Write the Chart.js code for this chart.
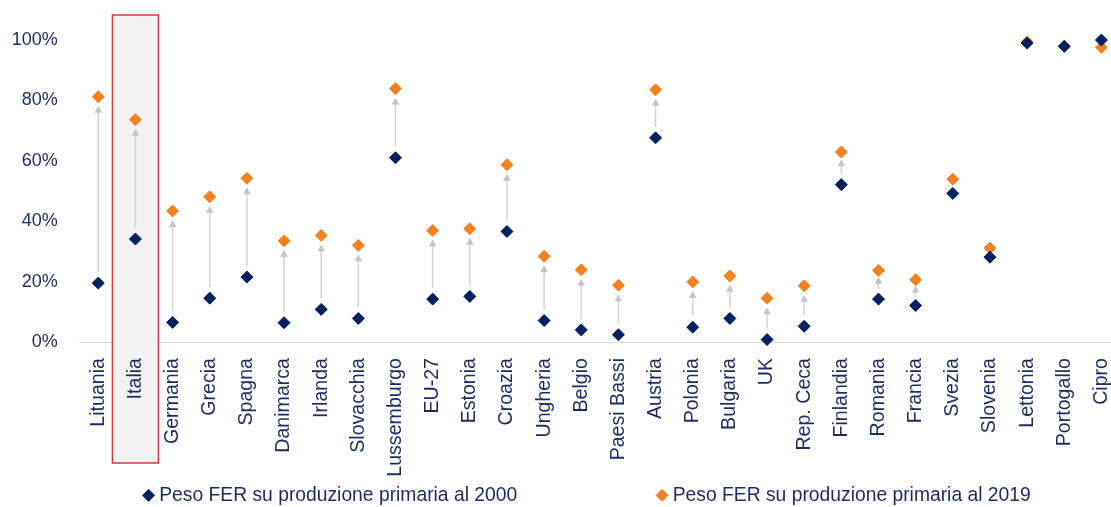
<!DOCTYPE html>
<html lang="it">
<head>
<meta charset="utf-8">
<title>Peso FER su produzione primaria</title>
<script src="https://cdn.jsdelivr.net/npm/chart.js@4.4.1/dist/chart.umd.min.js"></script>
<style>
  html, body { margin: 0; padding: 0; background: #ffffff; }
  #wrap { position: relative; width: 1111px; height: 507px; overflow: hidden; }
  canvas { display: block; }
</style>
</head>
<body>
<div id="wrap"><canvas id="chart"></canvas></div>
<script>
// Countries, ordered as on the axis
const countries = ['Lituania', 'Italia', 'Germania', 'Grecia', 'Spagna', 'Danimarca', 'Irlanda',
  'Slovacchia', 'Lussemburgo', 'EU-27', 'Estonia', 'Croazia', 'Ungheria', 'Belgio', 'Paesi Bassi',
  'Austria', 'Polonia', 'Bulgaria', 'UK', 'Rep. Ceca', 'Finlandia', 'Romania', 'Francia', 'Svezia',
  'Slovenia', 'Lettonia', 'Portogallo', 'Cipro'];

// Share of renewables (FER) in primary production, %
const share2000 = [19.5, 34.1, 6.5, 14.5, 21.5, 6.4, 10.8, 7.8, 61.0, 14.2, 15.1, 36.6, 7.1, 4.0, 2.4,
  67.6, 4.9, 7.8, 0.8, 5.2, 52.1, 14.2, 12.1, 49.2, 28.1, 99.0, 97.9, 100.0];
const share2019 = [81.2, 73.6, 43.4, 48.1, 54.2, 33.5, 35.3, 32.0, 83.9, 36.9, 37.5, 58.7, 28.4, 23.9, 18.8,
  83.5, 19.9, 21.9, 14.5, 18.6, 62.9, 23.7, 20.6, 53.9, 31.1, 99.4, 97.9, 97.6];

const yTicks = [0, 20, 40, 60, 80, 100];
const seriesNames = ['Peso FER su produzione primaria al 2000', 'Peso FER su produzione primaria al 2019'];
const highlighted = 'Italia';

const NAVY = '#002060';
const ORANGE = '#f58220';
const TEXT = '#1d2b5e';

// Prefer a condensed sans face when one is installed
const probe = document.createElement('canvas').getContext('2d');
function installed(name) {
  const sample = 'mmmmmwwwiiilll 0123456789';
  return ['monospace', 'serif'].some(base => {
    probe.font = `40px ${base}`;
    const a = probe.measureText(sample).width;
    probe.font = `40px '${name}', ${base}`;
    return probe.measureText(sample).width !== a;
  });
}
const family = ['Liberation Sans Narrow', 'Arial Narrow', 'Liberation Sans'].find(installed) || 'Arial';
const FONT = `'${family}', Arial, sans-serif`;

// Font size giving a text run the wanted length in pixels
function sizeForWidth(text, px) {
  probe.font = `100px ${FONT}`;
  return Math.round(1000 * px / probe.measureText(text).width) / 10;
}
const tickSize = sizeForWidth('100%', 46);
const labelSize = sizeForWidth('Lussemburgo', 119);
const legendSize = sizeForWidth(seriesNames[0], 359);

// Canvas geometry: plot from y = 40 (100%) to y = 342 (0%), categories 37.16 px wide from x = 79.7
const canvasW = 1120;
const canvasH = Math.round(505 + legendSize / 2);
const legendH = legendSize + 20;
const xAxisH = canvasH - legendH - 342;

// Spacing of the two legend entries, as trailing blanks
probe.font = `${legendSize}px ${FONT}`;
const spaceW = probe.measureText(' ').width;
const legendPad = [' '.repeat(Math.round(134 / spaceW)), ' '.repeat(Math.round(20 / spaceW))];

const cv = document.getElementById('chart');
cv.width = canvasW;
cv.height = canvasH;

Chart.defaults.font.family = FONT;
Chart.defaults.color = TEXT;

// Baseline at 0% and the framed column behind the highlighted country
const frameAndBaseline = {
  id: 'frameAndBaseline',
  beforeDraw(chart) {
    const { ctx, chartArea, scales } = chart;
    const y0 = scales.y.getPixelForValue(0);
    ctx.save();
    ctx.strokeStyle = '#d9d9d9';
    ctx.lineWidth = 1;
    ctx.beginPath();
    ctx.moveTo(chartArea.left, Math.round(y0) + 0.5);
    ctx.lineTo(chartArea.right, Math.round(y0) + 0.5);
    ctx.stroke();

    const i = countries.indexOf(highlighted);
    const xc = scales.x.getPixelForValue(i);
    const half = 23;
    const top = chartArea.top - 25;
    const bottom = chartArea.bottom + 121;
    ctx.fillStyle = '#f2f2f2';
    ctx.fillRect(xc - half, top, half * 2, bottom - top);
    ctx.strokeStyle = '#d33b3b';
    ctx.lineWidth = 1.5;
    ctx.strokeRect(xc - half, top, half * 2, bottom - top);
    ctx.restore();
  }
};

// Grey arrows from the 2000 value up to the 2019 value
const changeArrows = {
  id: 'changeArrows',
  beforeDatasetsDraw(chart) {
    const { ctx, scales } = chart;
    ctx.save();
    share2000.forEach((v0, i) => {
      const v1 = share2019[i];
      if (v1 - v0 < 6) return;
      const x = scales.x.getPixelForValue(i);
      const yFrom = scales.y.getPixelForValue(v0);
      const yTo = scales.y.getPixelForValue(v1);
      const dist = yFrom - yTo;
      const yStart = yFrom - Math.min(11, dist * 0.35);
      const yTip = yTo + Math.min(9, dist * 0.22);
      const head = 7;
      ctx.strokeStyle = '#d3d3d3';
      ctx.lineWidth = 1.5;
      ctx.beginPath();
      ctx.moveTo(x, yStart);
      ctx.lineTo(x, yTip + head - 1);
      ctx.stroke();
      ctx.fillStyle = '#c4c4c4';
      ctx.beginPath();
      ctx.moveTo(x, yTip);
      ctx.lineTo(x - 3.8, yTip + head);
      ctx.lineTo(x + 3.8, yTip + head);
      ctx.closePath();
      ctx.fill();
    });
    ctx.restore();
  }
};

new Chart(cv, {
  type: 'line',
  data: {
    labels: countries,
    datasets: [
      {
        label: seriesNames[0], data: share2000, showLine: false,
        pointStyle: 'rectRot', pointRadius: 6, pointHoverRadius: 6, pointBorderWidth: 1,
        backgroundColor: NAVY, borderColor: NAVY, borderWidth: 1, clip: false
      },
      {
        label: seriesNames[1], data: share2019, showLine: false,
        pointStyle: 'rectRot', pointRadius: 6, pointHoverRadius: 6, pointBorderWidth: 1,
        backgroundColor: ORANGE, borderColor: ORANGE, borderWidth: 1, clip: false
      }
    ]
  },
  options: {
    responsive: false,
    animation: false,
    devicePixelRatio: 1,
    layout: { autoPadding: false, padding: { top: 40, left: 0, right: 0, bottom: 0 } },
    scales: {
      x: {
        offset: true,
        grid: { display: false, drawTicks: false },
        border: { display: false },
        ticks: {
          autoSkip: false, minRotation: 90, maxRotation: 90, padding: 16,
          font: { size: labelSize }, color: TEXT
        },
        afterFit(scale) {
          scale.height = xAxisH;
          scale.paddingLeft = 0;
          scale.paddingRight = 0;
        }
      },
      y: {
        min: 0, max: 100,
        grid: { display: false, drawTicks: false },
        border: { display: false },
        afterBuildTicks(scale) { scale.ticks = yTicks.map(v => ({ value: v })); },
        ticks: {
          padding: 22, font: { size: tickSize }, color: TEXT,
          callback: v => v + '%'
        },
        afterFit(scale) { scale.width = 79.7; }
      }
    },
    plugins: {
      legend: {
        position: 'bottom',
        fullSize: false,
        labels: {
          usePointStyle: true, boxWidth: 2, boxHeight: 8.5, padding: 10,
          font: { size: legendSize }, color: TEXT,
          generateLabels(chart) {
            const items = Chart.defaults.plugins.legend.labels.generateLabels(chart);
            items.forEach((it, i) => { it.text = it.text + legendPad[i]; });
            return items;
          }
        }
      },
      tooltip: { enabled: false }
    }
  },
  plugins: [frameAndBaseline, changeArrows]
});
</script>
</body>
</html>
